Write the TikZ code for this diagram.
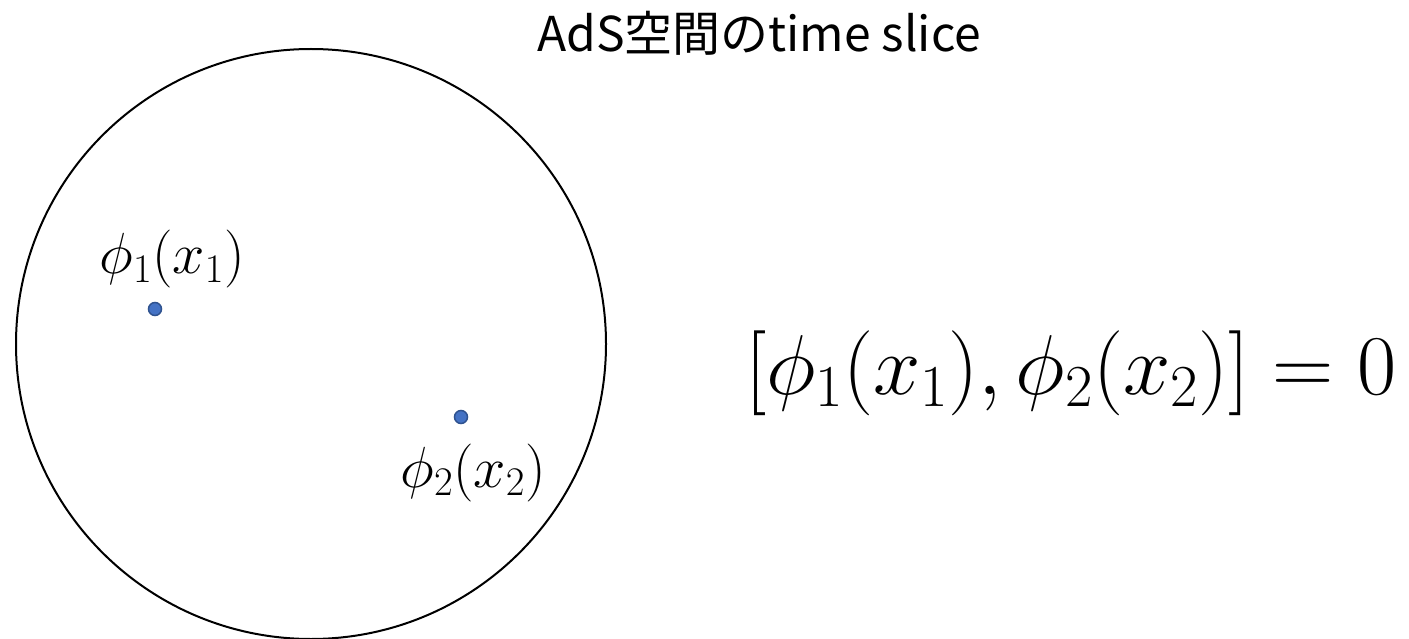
\documentclass[tikz,border=0pt]{standalone}
\usepackage{fix-cm}
\usepackage{fontspec}
\newfontfamily\cjk{Noto Sans CJK JP}
\tikzset{
  dotpt/.style={circle, fill={rgb,255:red,68;green,114;blue,196}, draw={rgb,255:red,47;green,82;blue,143}, line width=1.5pt, inner sep=0pt, minimum size=13pt},
  lbl/.style={inner sep=0pt, anchor=base, font=\fontsize{58}{66}\selectfont},
}
\begin{document}
\begin{tikzpicture}[x=1pt,y=-1pt]
\useasboundingbox (0,0) rectangle (1409,639);
\node[circle, draw, line width=2pt, minimum size=590pt, inner sep=0pt] (c) at (311,344) {};
\node[inner sep=0pt, anchor=base, font=\cjk\fontsize{48}{56}\selectfont] (t) at (759,52) {AdS空間のtime slice};
\node[dotpt] (d1) at (155,309) {};
\node[dotpt] (d2) at (461,417) {};
\node[lbl] (l1) at (172,274) {$\phi_1(x_1)$};
\node[lbl] (l2) at (473,487) {$\phi_2(x_2)$};
\node[inner sep=0pt, anchor=base, font=\fontsize{85}{100}\selectfont] (eq) at (1071,394) {$[\phi_1(x_1),\phi_2(x_2)] = 0$};
\end{tikzpicture}
\end{document}
